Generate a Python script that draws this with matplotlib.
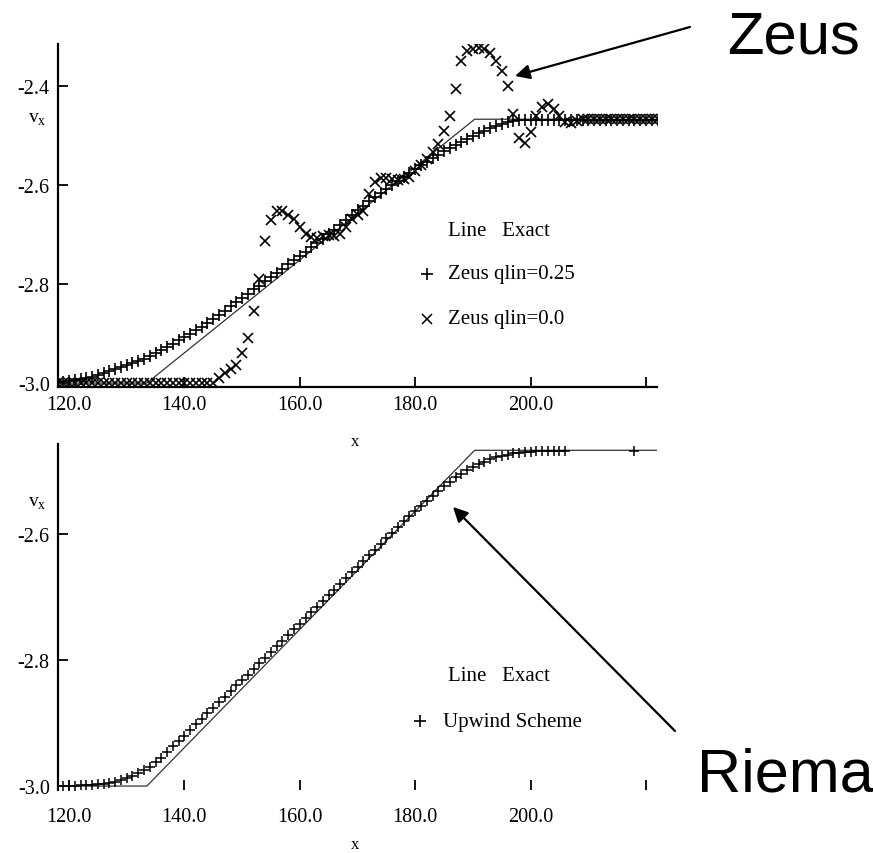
import matplotlib
matplotlib.use("Agg")
import matplotlib.pyplot as plt
from matplotlib.lines import Line2D
from matplotlib.patches import FancyArrowPatch

W, H = 873, 854

# exact solution (straight ramp between two flat states)
EXACT_X = [118.0, 133.5, 190.3, 222.0]
EXACT_VX = [-3.0, -3.0, -2.467, -2.467]

# top panel: Zeus runs
X_TOP = [118, 119, 120, 121, 122, 123, 124, 125, 126, 127,
         128, 129, 130, 131, 132, 133, 134, 135, 136, 137,
         138, 139, 140, 141, 142, 143, 144, 145, 146, 147,
         148, 149, 150, 151, 152, 153, 154, 155, 156, 157,
         158, 159, 160, 161, 162, 163, 164, 165, 166, 167,
         168, 169, 170, 171, 172, 173, 174, 175, 176, 177,
         178, 179, 180, 181, 182, 183, 184, 185, 186, 187,
         188, 189, 190, 191, 192, 193, 194, 195, 196, 197,
         198, 199, 200, 201, 202, 203, 204, 205, 206, 207,
         208, 209, 210, 211, 212, 213, 214, 215, 216, 217,
         218, 219, 220, 221, 222]
VX_QLIN025 = [-2.998, -2.997, -2.996, -2.994, -2.992, -2.990, -2.987, -2.984, -2.980, -2.976,
              -2.972, -2.968, -2.964, -2.960, -2.956, -2.951, -2.946, -2.940, -2.934, -2.928,
              -2.921, -2.914, -2.907, -2.900, -2.893, -2.886, -2.879, -2.870, -2.862, -2.854,
              -2.845, -2.837, -2.828, -2.820, -2.811, -2.803, -2.794, -2.786, -2.777, -2.769,
              -2.760, -2.752, -2.743, -2.735, -2.726, -2.717, -2.708, -2.699, -2.690, -2.680,
              -2.670, -2.660, -2.651, -2.642, -2.633, -2.624, -2.616, -2.607, -2.599, -2.591,
              -2.583, -2.575, -2.567, -2.560, -2.553, -2.546, -2.539, -2.532, -2.525, -2.519,
              -2.513, -2.507, -2.501, -2.495, -2.490, -2.485, -2.480, -2.476, -2.473, -2.471,
              -2.469, -2.468, -2.468, -2.468, -2.468, -2.468, -2.468, -2.468, -2.468, -2.468,
              -2.468, -2.468, -2.468, -2.468, -2.468, -2.468, -2.468, -2.468, -2.468, -2.468,
              -2.468, -2.468, -2.468, -2.468, -2.468]
VX_QLIN00 = [-3.000, -3.000, -3.000, -3.000, -3.000, -3.000, -3.000, -3.000, -3.000, -3.000,
             -3.000, -3.000, -3.000, -3.000, -3.000, -3.000, -3.000, -3.000, -3.000, -3.000,
             -3.000, -3.000, -3.000, -3.000, -3.000, -3.000, -3.000, -3.000, -2.990, -2.980,
             -2.972, -2.964, -2.940, -2.910, -2.854, -2.790, -2.714, -2.670, -2.652, -2.652,
             -2.660, -2.668, -2.684, -2.698, -2.704, -2.706, -2.702, -2.700, -2.702, -2.698,
             -2.684, -2.668, -2.660, -2.652, -2.618, -2.594, -2.586, -2.586, -2.588, -2.590,
             -2.588, -2.584, -2.572, -2.560, -2.548, -2.534, -2.518, -2.490, -2.460, -2.406,
             -2.350, -2.330, -2.325, -2.324, -2.326, -2.334, -2.350, -2.370, -2.400, -2.456,
             -2.505, -2.515, -2.492, -2.460, -2.442, -2.436, -2.446, -2.460, -2.472, -2.474,
             -2.470, -2.467, -2.467, -2.467, -2.467, -2.467, -2.467, -2.467, -2.467, -2.467,
             -2.467, -2.467, -2.467, -2.467, -2.467]

# bottom panel: upwind (Riemann) scheme
X_BOT = [118, 119, 120, 121, 122, 123, 124, 125, 126, 127,
         128, 129, 130, 131, 132, 133, 134, 135, 136, 137,
         138, 139, 140, 141, 142, 143, 144, 145, 146, 147,
         148, 149, 150, 151, 152, 153, 154, 155, 156, 157,
         158, 159, 160, 161, 162, 163, 164, 165, 166, 167,
         168, 169, 170, 171, 172, 173, 174, 175, 176, 177,
         178, 179, 180, 181, 182, 183, 184, 185, 186, 187,
         188, 189, 190, 191, 192, 193, 194, 195, 196, 197,
         198, 199, 200, 201, 202, 203, 204, 205, 206, 218]
VX_UPWIND = [-3.000, -3.000, -3.000, -3.000, -2.999, -2.999, -2.998, -2.997, -2.996, -2.995,
             -2.993, -2.991, -2.988, -2.984, -2.979, -2.974, -2.969, -2.962, -2.955, -2.946,
             -2.937, -2.928, -2.920, -2.911, -2.902, -2.893, -2.884, -2.876, -2.867, -2.858,
             -2.849, -2.840, -2.832, -2.823, -2.814, -2.805, -2.796, -2.787, -2.778, -2.769,
             -2.760, -2.751, -2.742, -2.733, -2.724, -2.715, -2.706, -2.697, -2.688, -2.679,
             -2.670, -2.661, -2.652, -2.643, -2.634, -2.625, -2.616, -2.607, -2.598, -2.589,
             -2.580, -2.572, -2.564, -2.555, -2.547, -2.539, -2.531, -2.524, -2.517, -2.510,
             -2.504, -2.498, -2.493, -2.489, -2.485, -2.481, -2.478, -2.476, -2.474, -2.472,
             -2.471, -2.470, -2.469, -2.468, -2.468, -2.468, -2.468, -2.468, -2.468, -2.468]

XTICKS = [120, 140, 160, 180, 200, 220]
XTICK_LABELS = ["120.0", "140.0", "160.0", "180.0", "200.0", ""]
YTICKS_TOP = [-3.0, -2.8, -2.6, -2.4]
YTICKS_BOT = [-3.0, -2.8, -2.6]


def fx(px):
    return px / W


def fy(py):
    return 1 - py / H


plt.rcParams["font.family"] = ["Liberation Serif", "DejaVu Serif"]
plt.rcParams["mathtext.fontset"] = "custom"
plt.rcParams["mathtext.rm"] = "Liberation Serif"

fig = plt.figure(figsize=(W / 100, H / 100), dpi=100)
fig.patch.set_facecolor("white")

ax1 = fig.add_axes([fx(58), fy(388), fx(657 - 58), (388 - 45) / H])
ax2 = fig.add_axes([fx(58), fy(791), fx(657 - 58), (791 - 445) / H])

# top panel
ax1.plot(EXACT_X, EXACT_VX, color="#333333", lw=0.9)
ax1.plot(X_TOP, VX_QLIN025, ls="none", marker="+", ms=8, mew=1.2, color="black")
ax1.plot(X_TOP, VX_QLIN00, ls="none", marker="x", ms=6.5, mew=1.2, color="black")
ax1.set_xlim(118.1, 221.9)
ax1.set_ylim(-3.008, -2.315)
ax1.set_yticks(YTICKS_TOP)
ax1.set_yticklabels(["-3.0", "-2.8", "-2.6", "-2.4"])
ax1.set_xticks(XTICKS)
ax1.set_xticklabels(XTICK_LABELS)
for s in ["top", "right"]:
    ax1.spines[s].set_visible(False)
for s in ["left", "bottom"]:
    ax1.spines[s].set_linewidth(1.6)
ax1.tick_params(axis="both", direction="in", length=7, width=1.3, labelsize=14.5)
ax1.tick_params(axis="x", pad=6)
ax1.tick_params(axis="y", pad=6)

# bottom panel
ax2.plot(EXACT_X, EXACT_VX, color="#333333", lw=0.9)
ax2.plot(X_BOT, VX_UPWIND, ls="none", marker="+", ms=6.5, mew=1.1, color="black")
ax2.set_xlim(118.1, 221.9)
ax2.set_ylim(-3.0063, -2.457)
ax2.set_yticks(YTICKS_BOT)
ax2.set_yticklabels(["-3.0", "-2.8", "-2.6"])
ax2.set_xticks(XTICKS)
ax2.set_xticklabels(XTICK_LABELS)
for s in ["top", "right", "bottom"]:
    ax2.spines[s].set_visible(False)
ax2.spines["left"].set_linewidth(1.6)
ax2.tick_params(axis="both", direction="in", length=7, width=1.3, labelsize=14.5)
ax2.tick_params(axis="x", pad=12)
ax2.tick_params(axis="y", pad=6)

# axis labels
fig.text(fx(37), fy(120), r"$\mathrm{v}_{\mathrm{x}}$", fontsize=14, ha="center", va="center")
fig.text(fx(37), fy(504), r"$\mathrm{v}_{\mathrm{x}}$", fontsize=14, ha="center", va="center")
fig.text(fx(355), fy(442), "x", fontsize=12, ha="center", va="center")
fig.text(fx(355), fy(845), "x", fontsize=12, ha="center", va="center")

# in-plot legends
fig.text(fx(448), fy(232), "Line   Exact", fontsize=15, ha="left", va="center")
fig.add_artist(Line2D([fx(427)], [fy(275)], marker="+", ms=9, mew=1.2, color="black",
                      transform=fig.transFigure))
fig.text(fx(448), fy(275), "Zeus qlin=0.25", fontsize=15, ha="left", va="center")
fig.add_artist(Line2D([fx(427)], [fy(320)], marker="x", ms=7.5, mew=1.1, color="black",
                      transform=fig.transFigure))
fig.text(fx(448), fy(320), "Zeus qlin=0.0", fontsize=15, ha="left", va="center")

fig.text(fx(448), fy(677), "Line   Exact", fontsize=15, ha="left", va="center")
fig.add_artist(Line2D([fx(420)], [fy(722)], marker="+", ms=9, mew=1.2, color="black",
                      transform=fig.transFigure))
fig.text(fx(443), fy(722), "Upwind Scheme", fontsize=15, ha="left", va="center")

# callouts ("Riemann" runs off the right edge, as in the original slide)
fig.text(fx(727), fy(53), "Zeus", fontsize=43, family="Liberation Sans",
         ha="left", va="baseline")
fig.text(fx(697), fy(792), "Riemann", fontsize=44, family="Liberation Sans",
         ha="left", va="baseline")
for start, tip in [((690, 28), (515, 77)), ((675, 732), (453, 508))]:
    fig.add_artist(FancyArrowPatch((fx(start[0]), fy(start[1])), (fx(tip[0]), fy(tip[1])),
                                   transform=fig.transFigure, arrowstyle="-|>",
                                   mutation_scale=22, lw=1.6, color="black",
                                   shrinkA=0, shrinkB=0))

fig.savefig("out.png", dpi=100, facecolor="white")
